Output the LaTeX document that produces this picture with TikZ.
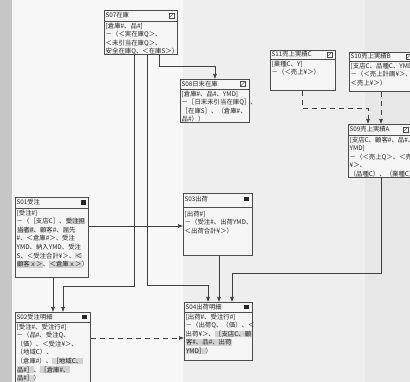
\documentclass[tikz,border=0pt]{standalone}
\usepackage{fontspec}
\setmainfont{Noto Sans CJK JP}
\usepackage{tikz}
\usepackage{xcolor}
\usetikzlibrary{arrows.meta}

\setlength{\fboxsep}{0.3pt}
\newcommand{\hlt}[1]{\colorbox{gray!35}{#1}}

\begin{document}
\begin{tikzpicture}[x=1pt, y=-1pt,
    ent/.style={rectangle, draw=black!70, fill=white!92!gray, line width=0.6pt, anchor=north west, inner sep=0pt},
    sep/.style={draw=black!70, line width=0.5pt},
    ttl/.style={anchor=west, inner sep=1.5pt, text=black!85, font=\fontsize{6.3}{8}\selectfont},
    bdy/.style={anchor=north west, align=left, inner sep=1.5pt, text=black!85, font=\fontsize{6.4}{8.6}\selectfont},
    icf/.style={fill=black!85, minimum size=4.5pt, inner sep=0pt},
    ico/.style={draw=black!70, minimum size=5pt, inner sep=0pt,
        path picture={\draw[black!70] (path picture bounding box.south west) -- (path picture bounding box.north east);}},
    arr/.style={-{Latex[length=5pt,width=4pt]}, black!75, line width=0.6pt},
    dsh/.style={arr, dash pattern=on 5pt off 4pt}]

    % photo background
    \clip (0,0) rectangle (410,382);
    \fill[gray!45] (0,0) rectangle (410,382);
    \fill[gray!6] (12,0) rectangle (183,382);
    \fill[gray!13] (183,0) rectangle (365,382);
    \fill[gray!19] (365,0) rectangle (410,382);

    % S07
    \node[ent, minimum width=73pt, minimum height=44pt] (s07) at (104,10) {};
    \draw[sep] ([yshift=-11pt]s07.north west) -- ([yshift=-11pt]s07.north east);
    \node[ttl] (s07t) at ([yshift=-5.5pt]s07.north west) {S07在庫};
    \node[ico] (s07i) at ([xshift=-6pt,yshift=-5.5pt]s07.north east) {};
    \node[bdy] (s07b) at ([yshift=-11pt]s07.north west) {[倉庫\#、品\#]\\－（＜実在庫Q＞、\\＜未引当在庫Q＞、\\安全在庫Q、＜在庫S＞）};

    % S08
    \node[ent, minimum width=69pt, minimum height=43pt] (s08) at (180,79) {};
    \draw[sep] ([yshift=-10pt]s08.north west) -- ([yshift=-10pt]s08.north east);
    \node[ttl] (s08t) at ([yshift=-5pt]s08.north west) {S08日末在庫};
    \node[ico] (s08i) at ([xshift=-7pt,yshift=-5pt]s08.north east) {};
    \node[bdy] (s08b) at ([yshift=-10pt]s08.north west) {[倉庫\#、品\#、YMD]\\－［日末未引当在庫Q］、\\［在庫S］、（倉庫\#、\\品\#））};

    % S11
    \node[ent, minimum width=65pt, minimum height=40pt] (s11) at (270,50) {};
    \draw[sep] ([yshift=-9pt]s11.north west) -- ([yshift=-9pt]s11.north east);
    \node[ttl] (s11t) at ([yshift=-4.5pt]s11.north west) {S11売上実績C};
    \node[ico] (s11i) at ([xshift=-6pt,yshift=-4.5pt]s11.north east) {};
    \node[bdy] (s11b) at ([yshift=-9pt]s11.north west) {[業種C、Y]\\－（＜売上¥＞）};

    % S10
    \node[ent, minimum width=65pt, minimum height=39pt] (s10) at (349,52) {};
    \draw[sep] ([yshift=-9pt]s10.north west) -- ([yshift=-9pt]s10.north east);
    \node[ttl] (s10t) at ([yshift=-4.5pt]s10.north west) {S10売上実績B};
    \node[ico] (s10i) at ([xshift=-6pt,yshift=-4.5pt]s10.north east) {};
    \node[bdy] (s10b) at ([yshift=-9pt]s10.north west) {[支店C、品種C、YMD]\\－（＜売上計画¥＞、\\＜売上¥＞）};

    % S09
    \node[ent, minimum width=65pt, minimum height=53pt] (s09) at (348,124) {};
    \draw[sep] ([yshift=-11pt]s09.north west) -- ([yshift=-11pt]s09.north east);
    \node[ttl] (s09t) at ([yshift=-5.5pt]s09.north west) {S09売上実績A};
    \node[ico] (s09i) at ([xshift=-8pt,yshift=-5.5pt]s09.north east) {};
    \node[bdy] (s09b) at ([yshift=-11pt]s09.north west) {[支店C、顧客\#、品\#、\\YMD]\\－（＜売上Q＞、＜売上\\¥＞、\\（品種C）、（業種C））};

    % S01
    \node[ent, minimum width=73pt, minimum height=80pt] (s01) at (15,197) {};
    \draw[sep] ([yshift=-11pt]s01.north west) -- ([yshift=-11pt]s01.north east);
    \node[ttl] (s01t) at ([yshift=-5.5pt]s01.north west) {S01受注};
    \node[icf] (s01i) at ([xshift=-5pt,yshift=-5.5pt]s01.north east) {};
    \node[bdy] (s01b) at ([yshift=-11pt]s01.north west) {[受注\#]\\－（［支店C］、\hlt{受注担}\\\hlt{当者\#}、顧客\#、届先\\\#、＜倉庫\#＞、受注\\YMD、納入YMD、受注\\S、＜受注合計¥＞、\hlt{＜}\\\hlt{顧客ｘ＞}、\hlt{＜倉庫ｘ＞}）};

    % S03
    \node[ent, minimum width=69pt, minimum height=62pt] (s03) at (183,193) {};
    \draw[sep] ([yshift=-14pt]s03.north west) -- ([yshift=-14pt]s03.north east);
    \node[ttl] (s03t) at ([yshift=-6pt]s03.north west) {S03出荷};
    \node[icf] (s03i) at ([xshift=-6pt,yshift=-6pt]s03.north east) {};
    \node[bdy] (s03b) at ([yshift=-16pt]s03.north west) {[出荷\#]\\－（受注\#、出荷YMD、\\＜出荷合計¥＞）};

    % S02
    \node[ent, minimum width=75pt, minimum height=74pt] (s02) at (15,312) {};
    \draw[sep] ([yshift=-10pt]s02.north west) -- ([yshift=-10pt]s02.north east);
    \node[ttl] (s02t) at ([yshift=-5pt]s02.north west) {S02受注明細};
    \node[icf] (s02i) at ([xshift=-6pt,yshift=-5pt]s02.north east) {};
    \node[bdy] (s02b) at ([yshift=-10pt]s02.north west) {[受注\#、受注行\#]\\－（品\#、受注Q、\\（価）、＜受注¥＞、\\（地域C）、\\（倉庫\#）、\hlt{［地域C、}\\\hlt{品\#］}、\hlt{［倉庫\#、}\\\hlt{品\#］}）};

    % S04
    \node[ent, minimum width=68pt, minimum height=58pt] (s04) at (184,302) {};
    \draw[sep] ([yshift=-10pt]s04.north west) -- ([yshift=-10pt]s04.north east);
    \node[ttl] (s04t) at ([yshift=-5pt]s04.north west) {S04出荷明細};
    \node[icf] (s04i) at ([xshift=-6pt,yshift=-5pt]s04.north east) {};
    \node[bdy] (s04b) at ([yshift=-10pt]s04.north west) {[出荷\#、受注行\#]\\－（出荷Q、（価）、＜\\出荷¥＞、\hlt{［支店C、顧}\\\hlt{客\#、品\#、出荷}\\\hlt{YMD］}）};

    % connectors
    \draw[arr] ([xshift=30pt]s07.south west) |- ([xshift=48pt,yshift=26pt]s02.north west) -- ([xshift=48pt]s02.north west);
    \draw[arr] ([xshift=43pt]s07.south west) |- ([xshift=24pt,yshift=17pt]s04.north west) -- ([xshift=24pt]s04.north west);
    \draw[arr] ([xshift=55pt]s07.south west) |- ([xshift=35pt,yshift=13pt]s08.north west) -- ([xshift=35pt]s08.north west);
    \draw[arr] ([xshift=38pt]s01.south west) -- ([xshift=38pt]s02.north west);
    \draw[arr] ([yshift=-29pt]s01.north east) -- ([yshift=-29pt]s01.north east -| s03.west);
    \draw[arr] ([xshift=36pt]s03.south west) -- ([xshift=36pt]s03.south west |- s04.north);
    \draw[arr] ([xshift=33pt]s09.south west) |- ([xshift=48pt,yshift=29pt]s04.north west) -- ([xshift=48pt]s04.north west);
    \draw[dsh] ([xshift=32pt]s11.south west) |- ([xshift=20pt,yshift=16pt]s09.north west) -- ([xshift=20pt]s09.north west);
    \draw[dsh] ([xshift=32pt]s10.south west) -- ([xshift=32pt]s10.south west |- s09.north);
    \draw[dsh] ([yshift=-26pt]s02.north east) -- ([yshift=-26pt]s02.north east -| s04.west);
\end{tikzpicture}
\end{document}
